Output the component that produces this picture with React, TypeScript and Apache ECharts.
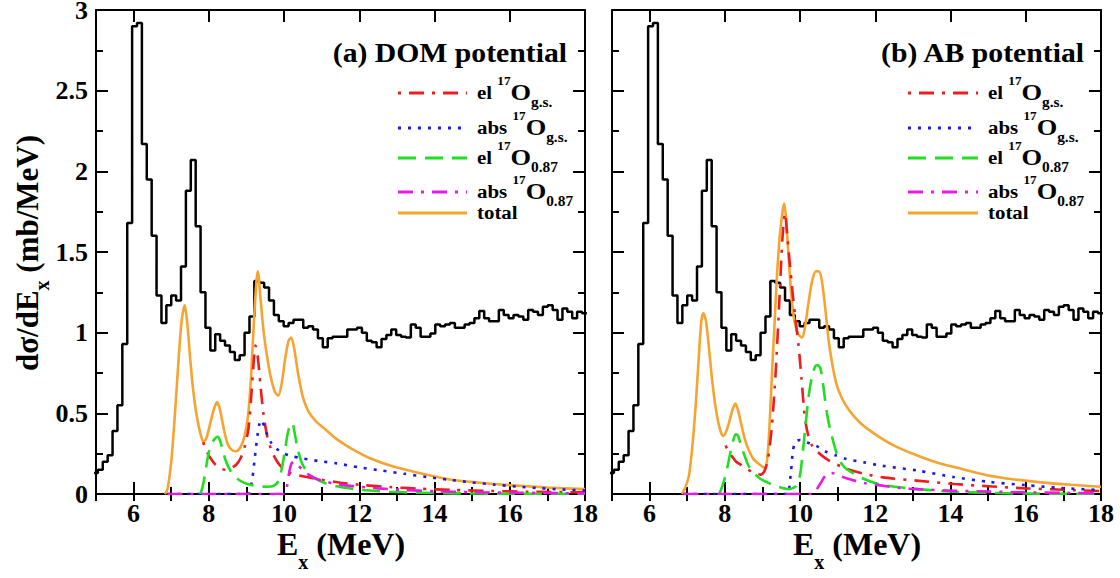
import { useEffect, useRef } from "react";
import * as echarts from "echarts";

const SERIF = "Liberation Serif, Times New Roman, serif";

// ---- experimental histogram (same data in both panels) ----
const HIST_START = 4.92;
const HIST_BIN = 0.13;
const histValues = [
  0.13, 0.15, 0.2, 0.24, 0.39, 0.55, 0.93, 1.68, 2.9, 2.92,
  2.17, 1.95, 1.6, 1.23, 1.06, 1.17, 1.23, 1.2, 1.41, 1.88,
  2.07, 1.66, 1.25, 1.03, 0.89, 0.99, 0.95, 0.92, 0.88, 0.83,
  0.86, 1.0, 1.1, 1.32, 1.31, 1.28, 1.2, 1.11, 1.07, 1.04,
  1.06, 1.08, 1.08, 1.03, 1.04, 1.02, 0.965, 0.91, 0.965, 0.975,
  0.975, 0.975, 1.02, 1.02, 1.03, 1.0, 0.95, 0.94, 0.91, 0.96,
  0.985, 1.02, 0.985, 0.975, 0.97, 1.05, 1.03, 0.975, 0.975, 0.995,
  1.05, 1.04, 1.05, 1.06, 1.03, 1.03, 1.05, 1.06, 1.09, 1.135,
  1.09, 1.07, 1.07, 1.14, 1.11, 1.09, 1.11, 1.1, 1.08, 1.14,
  1.13, 1.11, 1.16, 1.17, 1.14, 1.08, 1.15, 1.13, 1.09, 1.13,
  1.12,
];

// ---- (a) DOM potential ----
const domElGs = [
  [7.85, 0.32], [7.95, 0.26], [8.05, 0.22], [8.18, 0.18], [8.3, 0.16], [8.44, 0.15],
  [8.58, 0.16], [8.72, 0.18], [8.84, 0.22], [8.95, 0.29], [9.05, 0.4], [9.12, 0.58],
  [9.18, 0.78], [9.24, 0.92], [9.3, 0.85], [9.37, 0.68], [9.45, 0.5], [9.55, 0.36],
  [9.68, 0.26], [9.82, 0.2], [9.96, 0.16], [10.16, 0.13], [10.4, 0.115], [10.6, 0.105],
  [11.0, 0.088], [11.5, 0.07], [12.1, 0.055], [12.8, 0.043], [13.6, 0.033], [14.5, 0.025],
  [15.5, 0.019], [16.5, 0.014], [18.0, 0.01],
];
const domAbsGs = [
  [6.9, 0], [9.05, 0], [9.1, 0.03], [9.16, 0.1], [9.22, 0.22], [9.28, 0.34], [9.34, 0.43],
  [9.4, 0.46], [9.47, 0.42], [9.55, 0.37], [9.65, 0.32], [9.8, 0.28], [10.0, 0.25],
  [10.2, 0.235], [10.5, 0.22], [10.9, 0.205], [11.4, 0.19], [12.0, 0.165], [12.6, 0.145],
  [13.2, 0.125], [13.8, 0.105], [14.4, 0.088], [15.0, 0.072], [15.6, 0.058], [16.2, 0.046],
  [16.8, 0.036], [17.4, 0.028], [18.0, 0.022],
];
const domEl087 = [
  [7.78, 0], [7.85, 0.06], [7.93, 0.17], [8.0, 0.26], [8.07, 0.31], [8.15, 0.34], [8.23, 0.355],
  [8.3, 0.33], [8.38, 0.26], [8.46, 0.2], [8.56, 0.15], [8.68, 0.11], [8.85, 0.08], [9.05, 0.06],
  [9.3, 0.048], [9.55, 0.045], [9.72, 0.05], [9.85, 0.08], [9.95, 0.17], [10.03, 0.28],
  [10.1, 0.38], [10.17, 0.43], [10.22, 0.44], [10.28, 0.38], [10.36, 0.28], [10.46, 0.2],
  [10.6, 0.14], [10.8, 0.1], [11.1, 0.066], [11.5, 0.043], [12.1, 0.025], [12.8, 0.014],
  [13.5, 0.008], [14.5, 0.004], [16.0, 0.002], [18.0, 0.001],
];
const domAbs087 = [
  [6.9, 0], [10.02, 0], [10.08, 0.05], [10.14, 0.14], [10.2, 0.19], [10.27, 0.2], [10.35, 0.185],
  [10.47, 0.155], [10.62, 0.125], [10.8, 0.1], [11.05, 0.08], [11.4, 0.062], [11.9, 0.047],
  [12.5, 0.035], [13.2, 0.025], [14.0, 0.017], [15.0, 0.011], [16.0, 0.008], [17.0, 0.006],
  [18.0, 0.004],
];
const domTotal = [
  [6.83, 0], [6.9, 0.03], [7.0, 0.2], [7.1, 0.5], [7.2, 0.85], [7.28, 1.08], [7.36, 1.17],
  [7.43, 1.05], [7.5, 0.85], [7.58, 0.65], [7.68, 0.48], [7.78, 0.37], [7.86, 0.32], [7.94, 0.35],
  [8.04, 0.44], [8.14, 0.53], [8.22, 0.57], [8.3, 0.52], [8.4, 0.4], [8.5, 0.31], [8.6, 0.275],
  [8.72, 0.265], [8.84, 0.29], [8.94, 0.35], [9.04, 0.48], [9.12, 0.72], [9.2, 1.08], [9.27, 1.33],
  [9.31, 1.38], [9.36, 1.25], [9.45, 1.02], [9.55, 0.85], [9.65, 0.72], [9.76, 0.63], [9.85, 0.61],
  [9.94, 0.69], [10.03, 0.84], [10.12, 0.95], [10.19, 0.97], [10.27, 0.9], [10.37, 0.75],
  [10.5, 0.6], [10.65, 0.51], [10.85, 0.45], [11.1, 0.4], [11.4, 0.34], [11.8, 0.28], [12.3, 0.22],
  [12.9, 0.17], [13.6, 0.13], [14.4, 0.09], [15.2, 0.07], [16.0, 0.055], [17.0, 0.04], [18.0, 0.03],
];

// ---- (b) AB potential ----
const abElGs = [
  [8.02, 0.3], [8.1, 0.26], [8.2, 0.23], [8.3, 0.2], [8.4, 0.185], [8.55, 0.16], [8.7, 0.14],
  [8.85, 0.125], [8.95, 0.12], [9.05, 0.14], [9.15, 0.22], [9.25, 0.42], [9.35, 0.75], [9.45, 1.2],
  [9.53, 1.58], [9.6, 1.74], [9.66, 1.6], [9.73, 1.42], [9.8, 1.25], [9.88, 1.08], [9.96, 0.92],
  [10.04, 0.71], [10.13, 0.47], [10.22, 0.36], [10.32, 0.3], [10.47, 0.26], [10.75, 0.21],
  [11.2, 0.16], [11.7, 0.125], [12.2, 0.103], [13.1, 0.083], [14.1, 0.062], [15.0, 0.048],
  [16.0, 0.035], [17.0, 0.026], [18.0, 0.018],
];
const abAbsGs = [
  [6.9, 0], [9.68, 0], [9.72, 0.06], [9.76, 0.14], [9.8, 0.25], [9.85, 0.31], [9.92, 0.33],
  [10.0, 0.335], [10.18, 0.32], [10.42, 0.3], [10.66, 0.265], [10.94, 0.24], [11.23, 0.217],
  [11.7, 0.196], [12.18, 0.175], [13.13, 0.145], [14.08, 0.105], [15.03, 0.075], [16.0, 0.055],
  [16.93, 0.037], [18.0, 0.025],
];
const abEl087 = [
  [7.85, 0], [7.92, 0.04], [8.0, 0.1], [8.08, 0.18], [8.15, 0.26], [8.22, 0.33], [8.29, 0.37],
  [8.35, 0.36], [8.42, 0.31], [8.52, 0.24], [8.62, 0.18], [8.72, 0.145], [8.95, 0.093],
  [9.33, 0.052], [9.71, 0.03], [9.9, 0.05], [10.0, 0.12], [10.09, 0.3], [10.16, 0.46],
  [10.23, 0.61], [10.31, 0.72], [10.4, 0.79], [10.47, 0.8], [10.54, 0.78], [10.6, 0.7],
  [10.66, 0.59], [10.73, 0.48], [10.8, 0.4], [10.9, 0.31], [10.99, 0.24], [11.1, 0.19],
  [11.23, 0.155], [11.7, 0.093], [12.18, 0.056], [13.13, 0.03], [14.08, 0.014], [15.0, 0.007],
  [16.0, 0.003], [18.0, 0.001],
];
const abAbs087 = [
  [6.9, 0], [10.35, 0], [10.42, 0.02], [10.5, 0.05], [10.58, 0.08], [10.66, 0.11], [10.75, 0.13],
  [10.85, 0.13], [10.94, 0.124], [11.23, 0.097], [11.7, 0.068], [12.18, 0.052], [12.65, 0.037],
  [13.13, 0.03], [14.08, 0.02], [15.03, 0.015], [15.98, 0.01], [17.0, 0.007], [18.0, 0.005],
];
const abTotal = [
  [6.86, 0], [6.95, 0.04], [7.05, 0.12], [7.15, 0.33], [7.24, 0.6], [7.32, 0.9], [7.38, 1.08],
  [7.43, 1.12], [7.5, 1.07], [7.58, 0.9], [7.66, 0.71], [7.74, 0.56], [7.82, 0.45], [7.9, 0.38],
  [7.96, 0.36], [8.04, 0.39], [8.12, 0.45], [8.2, 0.52], [8.28, 0.56], [8.35, 0.52], [8.43, 0.44],
  [8.52, 0.35], [8.62, 0.28], [8.75, 0.22], [8.88, 0.19], [9.0, 0.17], [9.08, 0.16], [9.15, 0.28],
  [9.2, 0.48], [9.26, 0.78], [9.32, 1.05], [9.38, 1.33], [9.46, 1.6], [9.54, 1.76], [9.58, 1.8],
  [9.63, 1.7], [9.7, 1.45], [9.78, 1.2], [9.86, 1.06], [9.95, 0.99], [10.05, 0.97], [10.12, 1.02],
  [10.22, 1.18], [10.32, 1.32], [10.42, 1.38], [10.5, 1.38], [10.58, 1.32], [10.67, 1.15],
  [10.76, 0.95], [10.86, 0.8], [10.97, 0.68], [11.1, 0.6], [11.3, 0.52], [11.6, 0.44], [12.0, 0.37],
  [12.5, 0.3], [13.1, 0.24], [13.7, 0.19], [14.3, 0.155], [15.0, 0.115], [15.7, 0.09], [16.4, 0.072],
  [17.2, 0.057], [18.0, 0.045],
];

const xMajorTicks = [6, 8, 10, 12, 14, 16, 18];
const legendLabels = [
  "{m|el }{p|17}{o|O}{b|g.s.}",
  "{m|abs }{p|17}{o|O}{b|g.s.}",
  "{m|el }{p|17}{o|O}{b|0.87}",
  "{m|abs }{p|17}{o|O}{b|0.87}",
  "{m|total}",
];
const panelTitles = ["(a) DOM potential", "(b) AB potential"];

const COLORS = {
  red: "#ee1c1c",
  blue: "#1a1ae6",
  green: "#22dd22",
  magenta: "#e619e6",
  orange: "#f5a431",
};
const DASH = {
  red: [3, 8, 15, 8],
  blue: [3, 7],
  green: [18, 9],
  magenta: [15, 8, 3, 8],
};
const curveStyles = [
  { color: COLORS.red, dash: DASH.red as any },
  { color: COLORS.blue, dash: DASH.blue as any },
  { color: COLORS.green, dash: DASH.green as any },
  { color: COLORS.magenta, dash: DASH.magenta as any },
  { color: COLORS.orange, dash: "solid" as any },
];

function histPoints() {
  const pts = histValues.map((v, i) => [+(HIST_START + i * HIST_BIN).toFixed(3), v]);
  pts.push([+(HIST_START + histValues.length * HIST_BIN).toFixed(3), histValues[histValues.length - 1]]);
  return pts;
}

const GRID_W = 489;
const GRID_H = 484;
const GRID_TOP = 10;
const GRID_LEFTS = [96, 612];

export default function App() {
  const ref = useRef<HTMLDivElement>(null);
  useEffect(() => {
    document.body.style.margin = "0";
    if (!ref.current) return;
    const chart = echarts.init(ref.current, undefined, { renderer: "svg" });

    const grids: any[] = [];
    for (let k = 0; k < 4; k++) {
      grids.push({ left: GRID_LEFTS[k % 2], top: GRID_TOP, width: GRID_W, height: GRID_H, containLabel: false, outerBoundsMode: "none" });
    }
    const black = { color: "#000", width: 2 };
    const labelStyle = { fontSize: 26, fontWeight: "bold", fontFamily: SERIF, color: "#000" };
    const xAxes: any[] = [];
    const yAxes: any[] = [];
    for (let g = 0; g < 2; g++) {
      for (const pos of ["bottom", "top"]) {
        xAxes.push({
          type: "value", gridIndex: g, position: pos, min: 5, max: 18,
          axisLine: { show: true, onZero: false, lineStyle: black },
          axisTick: { show: true, inside: true, length: 12, customValues: xMajorTicks, lineStyle: black },
          axisLabel: pos === "bottom"
            ? { show: true, customValues: xMajorTicks, margin: 6, ...labelStyle }
            : { show: false },
          splitLine: { show: false },
        });
      }
      for (const pos of ["left", "right"]) {
        yAxes.push({
          type: "value", gridIndex: g, position: pos, min: 0, max: 3, interval: 0.5,
          axisLine: { show: true, onZero: false, lineStyle: black },
          axisTick: { show: true, inside: true, length: 12, lineStyle: black },
          axisLabel: pos === "left" && g === 0 ? { show: true, margin: 8, ...labelStyle } : { show: false },
          splitLine: { show: false },
        });
      }
    }
    for (let g = 2; g < 4; g++) {
      for (const pos of ["bottom", "top"]) {
        xAxes.push({
          type: "value", gridIndex: g, position: pos, min: 5, max: 18, interval: 1,
          axisLine: { show: false },
          axisTick: { show: true, inside: true, length: 7, lineStyle: black },
          axisLabel: { show: false }, splitLine: { show: false },
        });
      }
      for (const pos of ["left", "right"]) {
        yAxes.push({
          type: "value", gridIndex: g, position: pos, min: 0, max: 3, interval: 0.25,
          axisLine: { show: false },
          axisTick: { show: true, inside: true, length: 7, lineStyle: black },
          axisLabel: { show: false }, splitLine: { show: false },
        });
      }
    }

    const series: any[] = [];
    const panels = [
      { xi: 0, yi: 0, curves: [domElGs, domAbsGs, domEl087, domAbs087, domTotal] },
      { xi: 2, yi: 2, curves: [abElGs, abAbsGs, abEl087, abAbs087, abTotal] },
    ];
    panels.forEach((p) => {
      series.push({
        type: "line", xAxisIndex: p.xi, yAxisIndex: p.yi, step: "end", data: histPoints(),
        symbol: "none", silent: true, lineStyle: { color: "#000", width: 2.5 }, z: 2,
      });
      const order = [4, 0, 1, 2, 3];
      order.forEach((ci) => {
        series.push({
          type: "line", xAxisIndex: p.xi, yAxisIndex: p.yi, data: p.curves[ci], smooth: 0.25,
          symbol: "none", silent: true,
          lineStyle: { color: curveStyles[ci].color, width: 2.6, type: curveStyles[ci].dash },
          z: 3,
        });
      });
    });

    const graphic: any[] = [];
    const rich = {
      m: { fontSize: 19, fontWeight: "bold", fontFamily: SERIF, fill: "#000", lineHeight: 34, verticalAlign: "middle" },
      p: { fontSize: 12, fontWeight: "bold", fontFamily: SERIF, fill: "#000", verticalAlign: "top" },
      o: { fontSize: 24, fontWeight: "bold", fontFamily: SERIF, fill: "#000", verticalAlign: "middle" },
      b: { fontSize: 14, fontWeight: "bold", fontFamily: SERIF, fill: "#000", verticalAlign: "bottom" },
    };
    const rowsY = [93, 128, 158, 192, 213];
    const legendPos = [
      { x1: 398, x2: 467, tx: 477, titleX: 567 },
      { x1: 908, x2: 978, tx: 988, titleX: 1084 },
    ];
    legendPos.forEach((lp, pi) => {
      graphic.push({
        type: "text", x: lp.titleX, y: 53, z: 10, scaleX: 1.1,
        style: {
          text: panelTitles[pi], font: `bold 27px ${SERIF}`, fill: "#000",
          textAlign: "right", align: "right", textVerticalAlign: "middle", verticalAlign: "middle",
        },
      });
      rowsY.forEach((ry, ri) => {
        const cs = curveStyles[ri];
        graphic.push({
          type: "line", z: 10,
          shape: { x1: lp.x1, y1: ry, x2: lp.x2, y2: ry },
          style: { stroke: cs.color, lineWidth: 3, lineDash: cs.dash === "solid" ? null : cs.dash },
        });
        graphic.push({
          type: "text", x: lp.tx, y: ry - 1, z: 10, scaleX: 1.1,
          style: {
            text: legendLabels[ri], rich, fill: "#000",
            textAlign: "left", align: "left", textVerticalAlign: "middle", verticalAlign: "middle",
          },
        });
      });
    });
    const nameRich = {
      m: { fontSize: 32, fontWeight: "bold", fontFamily: SERIF, fill: "#000", lineHeight: 56, verticalAlign: "middle" },
      s: { fontSize: 20, fontWeight: "bold", fontFamily: SERIF, fill: "#000", verticalAlign: "bottom" },
    };
    [341, 857].forEach((cx) => {
      graphic.push({
        type: "text", x: cx, y: 544, z: 10,
        style: {
          text: "{m|E}{s|x}{m| (MeV)}", rich: nameRich,
          textAlign: "center", align: "center", textVerticalAlign: "middle", verticalAlign: "middle",
        },
      });
    });
    graphic.push({
      type: "text", x: 27, y: 253, rotation: Math.PI / 2, z: 10,
      style: {
        text: "{m|dσ/dE}{s|x}{m| (mb/MeV)}",
        rich: {
          m: { fontSize: 31, fontWeight: "bold", fontFamily: SERIF, fill: "#000", lineHeight: 50, verticalAlign: "middle" },
          s: { fontSize: 20, fontWeight: "bold", fontFamily: SERIF, fill: "#000", verticalAlign: "bottom" },
        },
        textAlign: "center", align: "center", textVerticalAlign: "middle", verticalAlign: "middle",
      },
    });

    chart.setOption({
      animation: false,
      backgroundColor: "#fff",
      grid: grids,
      xAxis: xAxes,
      yAxis: yAxes,
      series,
      graphic,
    });
    return () => chart.dispose();
  }, []);
  return <div ref={ref} style={{ width: 1120, height: 578 }} />;
}
